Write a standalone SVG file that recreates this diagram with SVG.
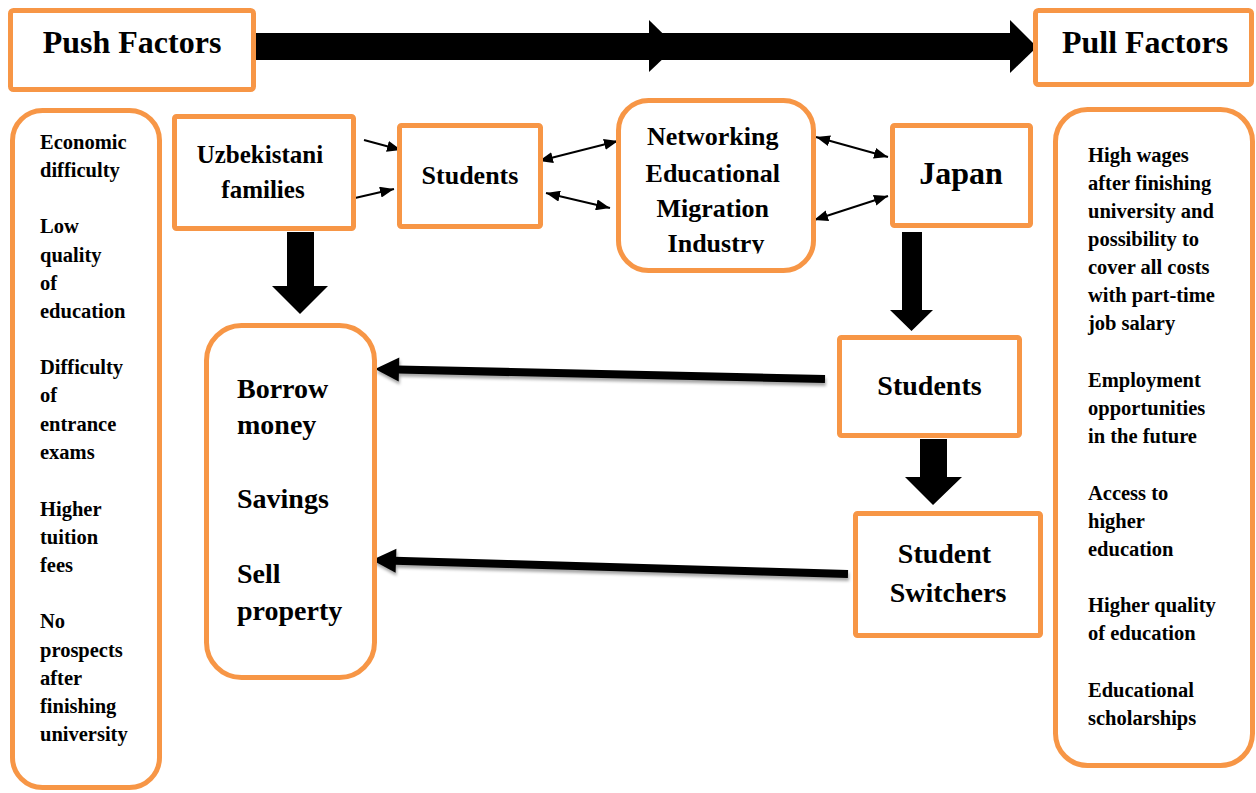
<svg xmlns="http://www.w3.org/2000/svg" width="1256" height="793" viewBox="0 0 1256 793">
  <style>
    .box { fill: #ffffff; stroke: #F79646; stroke-width: 5; }
    .t { font-family: "Liberation Serif", "Times New Roman", serif; font-weight: bold; fill: #000; }
    .list { font-size: 20.5px; }
    .c { text-anchor: middle; }
    .thin { stroke: #000; stroke-width: 2; fill: none; marker-start: url(#tip); marker-end: url(#tip); }
    .one { stroke: #000; stroke-width: 2; fill: none; marker-end: url(#tip); }
    .fat { stroke: #000; stroke-width: 8; fill: none; }
  </style>
  <defs>
    <marker id="tip" markerUnits="userSpaceOnUse" viewBox="0 0 14 11" markerWidth="14" markerHeight="11" refX="14" refY="5.5" orient="auto-start-reverse">
      <path d="M0,0 L14,5.5 L0,11 z" fill="#000"/>
    </marker>
    <filter id="shade" x="-5%" y="-50%" width="110%" height="200%">
      <feDropShadow dx="1" dy="3" stdDeviation="1.8" flood-color="#000" flood-opacity="0.35"/>
    </filter>
    <clipPath id="cutBottom">
      <rect x="600" y="100" width="230" height="153.5"/>
    </clipPath>
  </defs>

  <rect width="1256" height="793" fill="#ffffff"/>

  <!-- connectors -->
  <g id="connectors">
    <!-- push to pull banner arrow -->
    <rect x="254" y="33" width="760" height="27" fill="#000"/>
    <polygon points="649,20 676,46.5 649,72" fill="#000"/>
    <polygon points="1010,20 1037,47 1010,73" fill="#000"/>

    <!-- families -> students -->
    <line class="one" x1="364" y1="140" x2="401" y2="150"/>
    <line class="one" x1="355" y1="198" x2="394" y2="189"/>
    <!-- students <-> networking -->
    <line class="thin" x1="539" y1="161" x2="618" y2="141"/>
    <line class="thin" x1="546" y1="193" x2="610" y2="208"/>
    <!-- networking <-> japan -->
    <line class="thin" x1="816" y1="137" x2="888" y2="157"/>
    <line class="thin" x1="814" y1="220" x2="888" y2="196"/>

    <!-- block arrows pointing down -->
    <polygon points="287,232 314,232 314,286 328,286 300,314 272,286 287,286" fill="#000"/>
    <polygon points="902,232 922,232 922,310 933,310 911.5,331 890,310 902,310" fill="#000"/>
    <polygon points="920,439 947,439 947,477 962,477 933,505 905,477 920,477" fill="#000"/>

    <!-- arrows back to funding sources -->
    <g filter="url(#shade)">
      <line class="fat" x1="825" y1="379" x2="398" y2="369.5"/>
      <polygon points="375,369 399.3,357.5 398.7,381.5" fill="#000"/>
      <line class="fat" x1="848" y1="574" x2="395" y2="560.7"/>
      <polygon points="372,560 396.4,548.7 395.6,572.7" fill="#000"/>
    </g>
  </g>

  <g id="push-factors">
    <rect class="box" x="10.5" y="10.5" width="243" height="79" rx="3"/>
    <text class="t c" x="132" y="53" font-size="32">Push Factors</text>
  </g>

  <g id="pull-factors">
    <rect class="box" x="1035.5" y="10.5" width="216" height="74" rx="3"/>
    <text class="t c" x="1145" y="53" font-size="32">Pull Factors</text>
  </g>

  <g id="push-list">
    <rect class="box" x="12.5" y="110.5" width="147" height="677" rx="30"/>
    <text class="t list" x="40">
      <tspan x="40" y="149">Economic</tspan>
      <tspan x="40" y="177">difficulty</tspan>
      <tspan x="40" y="233">Low</tspan>
      <tspan x="40" y="262">quality</tspan>
      <tspan x="40" y="290">of</tspan>
      <tspan x="40" y="318">education</tspan>
      <tspan x="40" y="374">Difficulty</tspan>
      <tspan x="40" y="402">of</tspan>
      <tspan x="40" y="431">entrance</tspan>
      <tspan x="40" y="459">exams</tspan>
      <tspan x="40" y="516">Higher</tspan>
      <tspan x="40" y="544">tuition</tspan>
      <tspan x="40" y="572">fees</tspan>
      <tspan x="40" y="628">No</tspan>
      <tspan x="40" y="657">prospects</tspan>
      <tspan x="40" y="685">after</tspan>
      <tspan x="40" y="713">finishing</tspan>
      <tspan x="40" y="741">university</tspan>
    </text>
  </g>

  <g id="pull-list">
    <rect class="box" x="1055.5" y="109.5" width="197" height="656" rx="32"/>
    <text class="t list" x="1088">
      <tspan x="1088" y="162">High wages</tspan>
      <tspan x="1088" y="190">after finishing</tspan>
      <tspan x="1088" y="218">university and</tspan>
      <tspan x="1088" y="246">possibility to</tspan>
      <tspan x="1088" y="274">cover all costs</tspan>
      <tspan x="1088" y="302">with part-time</tspan>
      <tspan x="1088" y="330">job salary</tspan>
      <tspan x="1088" y="387">Employment</tspan>
      <tspan x="1088" y="415">opportunities</tspan>
      <tspan x="1088" y="443">in the future</tspan>
      <tspan x="1088" y="500">Access to</tspan>
      <tspan x="1088" y="528">higher</tspan>
      <tspan x="1088" y="556">education</tspan>
      <tspan x="1088" y="612">Higher quality</tspan>
      <tspan x="1088" y="640">of education</tspan>
      <tspan x="1088" y="697">Educational</tspan>
      <tspan x="1088" y="725">scholarships</tspan>
    </text>
  </g>

  <g id="uzbekistani-families">
    <rect class="box" x="174.5" y="116.5" width="179" height="112" rx="2"/>
    <text class="t c" font-size="25">
      <tspan x="263" y="163">Uzbekistani</tspan>
      <tspan x="263" y="198">families</tspan>
    </text>
  </g>

  <g id="students-home">
    <rect class="box" x="399.5" y="125.5" width="141" height="101" rx="2"/>
    <text class="t c" x="470" y="184" font-size="26">Students</text>
  </g>

  <g id="networking-industry">
    <rect class="box" x="618.5" y="100.5" width="195" height="170" rx="30"/>
    <text class="t c" font-size="26" clip-path="url(#cutBottom)">
      <tspan x="716" y="145">Networking</tspan>
      <tspan x="716" y="182">Educational</tspan>
      <tspan x="716" y="217">Migration</tspan>
      <tspan x="716" y="252">Industry</tspan>
    </text>
  </g>

  <g id="japan">
    <rect class="box" x="892.5" y="125.5" width="138" height="100" rx="2"/>
    <text class="t c" x="961" y="184" font-size="32">Japan</text>
  </g>

  <g id="funding">
    <rect class="box" x="206.5" y="325.5" width="168" height="352" rx="35"/>
    <text class="t" font-size="28">
      <tspan x="237" y="398">Borrow</tspan>
      <tspan x="237" y="434">money</tspan>
      <tspan x="237" y="508">Savings</tspan>
      <tspan x="237" y="583">Sell</tspan>
      <tspan x="237" y="620">property</tspan>
    </text>
  </g>

  <g id="students-japan">
    <rect class="box" x="839.5" y="337.5" width="180" height="98" rx="2"/>
    <text class="t c" x="929.5" y="395" font-size="28">Students</text>
  </g>

  <g id="student-switchers">
    <rect class="box" x="855.5" y="513.5" width="185" height="122" rx="2"/>
    <text class="t c" font-size="28">
      <tspan x="948" y="563">Student</tspan>
      <tspan x="948" y="602">Switchers</tspan>
    </text>
  </g>
</svg>
